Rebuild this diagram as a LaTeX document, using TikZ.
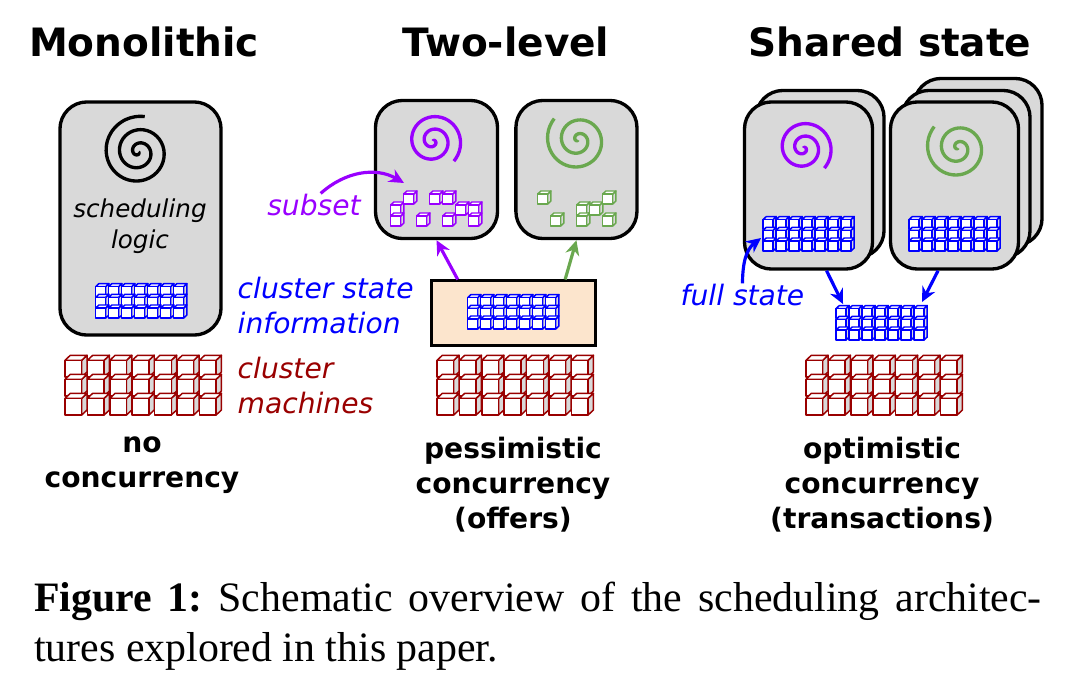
\documentclass[tikz,border=0pt]{standalone}
\usepackage{fontspec}
\setmainfont{Liberation Serif}
\setsansfont{DejaVu Sans}
\usetikzlibrary{arrows.meta, positioning, calc}

\definecolor{boxgray}{HTML}{D9D9D9}
\definecolor{offercream}{HTML}{FCE5CD}
\definecolor{schedpurple}{HTML}{9900FF}
\definecolor{schedgreen}{HTML}{6AA84F}
\definecolor{machinered}{HTML}{990000}

% one cube: x, y of the front corner, size, colour
\newcommand{\cubeat}[4]{
  \begin{scope}[shift={(#1,#2)}, scale=#3, draw=#4, line width=0.42pt, line join=round]
    \filldraw[fill=boxgray] (1,0) -- (1.32,-0.3) -- (1.32,-1.3) -- (1,-1) -- cycle;
    \filldraw[fill=white] (0,-1) -- (0.32,-1.3) -- (1.32,-1.3) -- (1,-1) -- cycle;
    \filldraw[fill=white] (0,0) rectangle (1,-1);
  \end{scope}
}
% full stack of 7 x 3 cubes: x, y, size, x step, y step, colour
\newcommand{\cubegrid}[6]{
  \foreach \r in {2,1,0} {
    \foreach \c in {0,...,6} {
      \cubeat{#1+\c*#4}{#2-\r*#5}{#3}{#6}
    }
  }
}
% some small cubes only: x, y, colour, list of column/row
\newcommand{\cubeset}[4]{
  \foreach \c/\r in {#4} {
    \cubeat{#1+\c*13}{#2-\r*11}{10}{#3}
  }
}
% x, y, radius, sweep, angle of the outer end, colour
\newcommand{\spiral}[6]{
  \draw[#6, line width=0.95pt, line cap=butt] plot[smooth, domain=0:#4, samples=110]
    ({#1+#3*(\x/#4)*cos(#5+#4-\x)}, {#2-#3*(\x/#4)*sin(#5+#4-\x)});
}

\begin{document}
\begin{tikzpicture}[
    x=0.01cm, y=-0.01cm,
    schedbox/.style={rectangle, draw=black, fill=boxgray, line width=0.95pt, rounded corners=0.27cm, inner sep=0pt},
    offerbox/.style={rectangle, draw=black, fill=offercream, line width=0.85pt, inner sep=0pt, minimum width=1.63cm, minimum height=0.64cm},
    title/.style={font=\sffamily\bfseries\fontsize{11.1}{13}\selectfont, anchor=base, inner sep=0pt},
    verdict/.style={font=\sffamily\bfseries\fontsize{8}{10}\selectfont, align=center, inner sep=0pt},
    note/.style={font=\sffamily\itshape\fontsize{8}{9.95}\selectfont, align=left, inner sep=0pt},
    arrow/.style={-{Stealth[length=4.2pt, width=4pt]}, line width=0.9pt}
]
\useasboundingbox (0,0) rectangle (1071,685);

% Titles
\node[title] (monoTitle) at (144,57) {Monolithic};
\node[title] (twoTitle) at (506,57) {Two-level};
\node[title] (sharedTitle) at (890,57) {Shared state};

% Monolithic
\node[schedbox, minimum width=1.61cm, minimum height=2.33cm] (monoBox) at (140.5,218.5) {};
\spiral{138.5}{152}{36}{970}{80}{black}
\node[note, font=\sffamily\itshape\fontsize{7}{8.9}\selectfont, align=center] (monoLogic) at (140,226.5) {scheduling\\logic};
\cubegrid{95.7}{318}{10}{13}{10.7}{blue}
\cubegrid{65}{415}{16.7}{22.4}{19}{machinered}

% Two-level
\node[schedbox, minimum width=1.22cm, minimum height=1.38cm] (purpleBox) at (436.5,169.5) {};
\node[schedbox, minimum width=1.21cm, minimum height=1.38cm, right=0.15cm of purpleBox] (greenBox) {};
\spiral{433}{141}{29}{830}{-44}{schedpurple}
\spiral{578}{140}{32}{830}{138}{schedgreen}
\cubeset{390.7}{226}{schedpurple}{0/1,0/0,1/2,2/0,3/2,4/2,4/0,5/1,6/1,6/0}
\cubeset{537.7}{226}{schedgreen}{0/2,1/0,3/1,3/0,4/1,5/2,5/0}
\node[offerbox] (offerBox) at (513.5,313) {};
\cubegrid{467.7}{329}{10}{13}{10.7}{blue}
\cubegrid{437}{415}{16.7}{22.4}{19}{machinered}

% Shared state
\node[schedbox, minimum width=1.28cm, minimum height=1.67cm] (purpleBack) at (820,174) {};
\node[schedbox, minimum width=1.28cm, minimum height=1.67cm] (purpleFront) at (808.5,185.5) {};
\node[schedbox, minimum width=1.28cm, minimum height=1.67cm] (greenBack) at (978,162) {};
\node[schedbox, minimum width=1.28cm, minimum height=1.67cm] (greenMid) at (966,174) {};
\node[schedbox, minimum width=1.28cm, minimum height=1.67cm] (greenFront) at (954.5,185.5) {};
\spiral{803.5}{148}{29}{830}{-44}{schedpurple}
\spiral{958}{148}{32}{830}{138}{schedgreen}
\cubegrid{763}{251}{10}{13}{10.7}{blue}
\cubegrid{909}{251}{10}{13}{10.7}{blue}
\cubegrid{836}{340}{10}{13}{10.7}{blue}
\cubegrid{806}{415}{16.7}{22.4}{19}{machinered}

% Labels
\node[note, text=schedpurple] (subsetLabel) at (314,205) {subset};
\node[note, text=blue, anchor=west] (stateLabel) at (237,306) {cluster state\\information};
\node[note, text=machinered, anchor=west] (machineLabel) at (237,386) {cluster\\machines};
\node[note, text=blue, anchor=west] (fullLabel) at (680,295) {full state};

\node[verdict] (monoVerdict) at (142,465.5) {no\\concurrency};
\node[verdict] (twoVerdict) at (513,484.5) {pessimistic\\concurrency\\(offers)};
\node[verdict] (sharedVerdict) at (882,484.5) {optimistic\\concurrency\\(transactions)};

% Arrows
\coordinate (subsetEnd) at (404,183);
\coordinate (fullEnd) at (761,238);
\coordinate (sharedLeft) at (843,304);
\coordinate (sharedRight) at (922,302);
\draw[arrow, schedpurple] (subsetLabel.60) to[out=42, in=150] (subsetEnd);
\draw[arrow, schedpurple] (offerBox.149.7) -- (purpleBox.south);
\draw[arrow, schedgreen] (offerBox.33.7) -- (greenBox.south);
\draw[arrow, blue] (fullLabel.north) to[out=90, in=218] (fullEnd);
\draw[arrow, blue] ($(purpleFront.south)+(18,0)$) -- (sharedLeft);
\draw[arrow, blue] ($(greenFront.south)+(-16.5,0)$) -- (sharedRight);

% Caption
\node[anchor=north west, text width=10.07cm, align=justify, inner sep=0pt, font=\frenchspacing\fontsize{11.9}{14.2}\selectfont] (caption) at (33.5,581)
  {\textbf{Figure 1:} Schematic overview of the scheduling architec-\linebreak tures explored in this paper.};

\end{tikzpicture}
\end{document}
